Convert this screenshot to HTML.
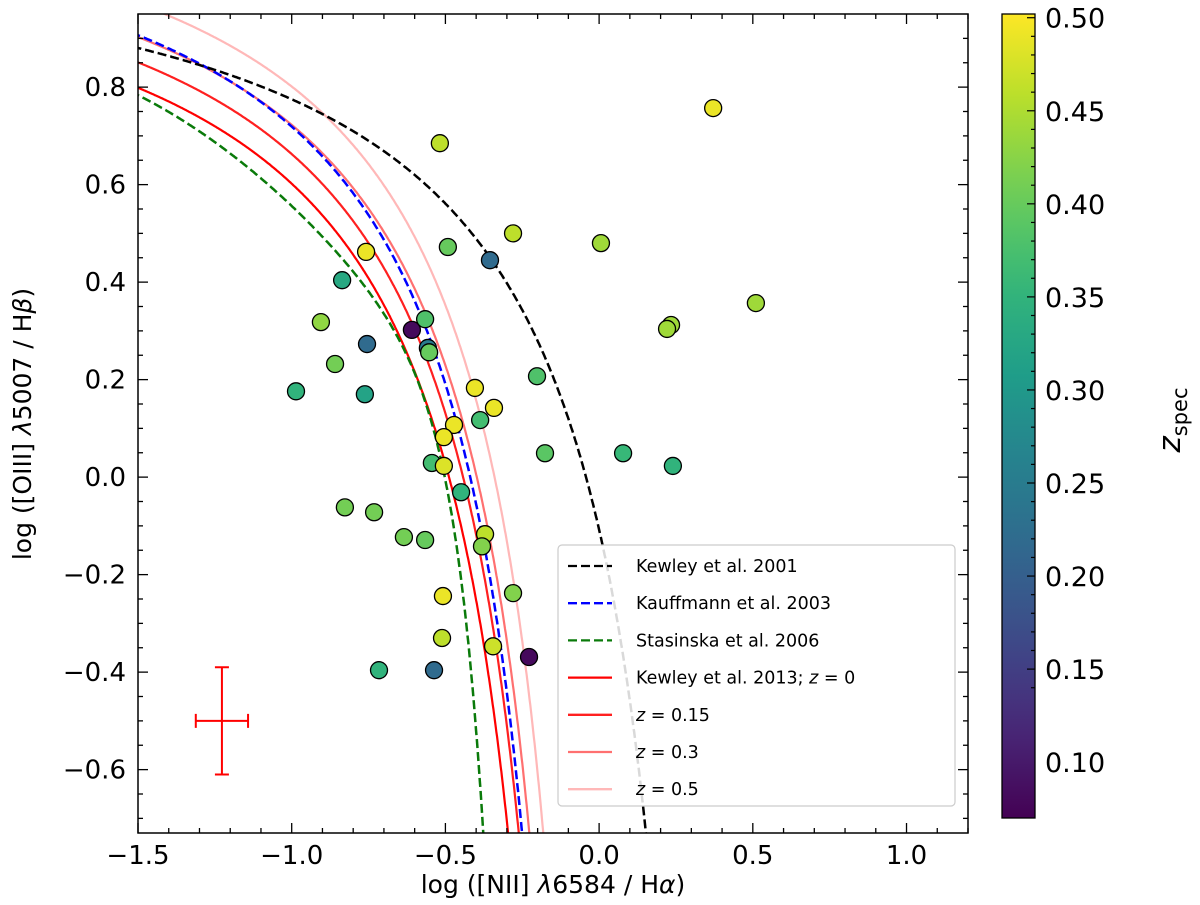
<!DOCTYPE html>
<html><head><meta charset="utf-8"><style>
html,body{margin:0;padding:0;background:#fff;}
svg{display:block;font-family:"DejaVu Sans","Liberation Sans",sans-serif;}
</style></head><body>
<svg id="chart" width="1200" height="905" viewBox="0 0 1200 905">
<defs><linearGradient id="vir" x1="0" y1="1" x2="0" y2="0"></linearGradient>
<clipPath id="clip"><rect x="138" y="14" width="830" height="819"/></clipPath></defs>
<g id="curves" clip-path="url(#clip)"></g>
<g id="pts" clip-path="url(#clip)"></g>
<g id="axes"></g>
<g id="legend"></g>
<g id="cbar"></g>
</svg>
<script>
const xs=[0.371,-0.518,-0.28,0.006,-0.492,-0.355,-0.758,-0.836,0.51,0.234,0.221,-0.905,-0.609,-0.566,-0.755,-0.557,-0.553,-0.859,-0.404,-0.202,-0.986,-0.762,-0.342,-0.387,-0.472,-0.505,-0.176,0.078,0.24,-0.544,-0.505,-0.449,-0.827,-0.732,-0.635,-0.566,-0.371,-0.381,-0.28,-0.508,-0.511,-0.345,-0.228,-0.716,-0.537];
const ys=[0.757,0.685,0.50,0.48,0.472,0.445,0.462,0.404,0.357,0.312,0.304,0.318,0.302,0.324,0.273,0.265,0.256,0.232,0.183,0.207,0.176,0.17,0.142,0.117,0.107,0.082,0.049,0.049,0.023,0.029,0.023,-0.031,-0.062,-0.072,-0.123,-0.129,-0.117,-0.142,-0.238,-0.244,-0.33,-0.347,-0.369,-0.396,-0.396];
const zs=[0.49,0.46,0.46,0.44,0.40,0.22,0.49,0.33,0.44,0.44,0.44,0.43,0.08,0.38,0.22,0.25,0.40,0.41,0.49,0.38,0.35,0.32,0.49,0.37,0.49,0.49,0.39,0.36,0.35,0.37,0.48,0.35,0.41,0.41,0.41,0.40,0.46,0.42,0.42,0.49,0.46,0.47,0.08,0.35,0.22];
const xTicks=[-1.5,-1.0,-0.5,0.0,0.5,1.0];
const xTickLabels=["\u22121.5","\u22121.0","\u22120.5","0.0","0.5","1.0"];
const yTicks=[-0.6,-0.4,-0.2,0.0,0.2,0.4,0.6,0.8];
const yTickLabels=["\u22120.6","\u22120.4","\u22120.2","0.0","0.2","0.4","0.6","0.8"];
const cTicks=[0.10,0.15,0.20,0.25,0.30,0.35,0.40,0.45,0.50];
const cTickLabels=["0.10","0.15","0.20","0.25","0.30","0.35","0.40","0.45","0.50"];
const kewleyZ=[0,0.15,0.3,0.5];
const errX=[-1.227], errY=[-0.5], errXw=[0.085], errYw=[0.11];

const X0=138,X1=968,Y0=14,Y1=833,XMIN=-1.5,XMAX=1.2,YMIN=-0.73,YMAX=0.95,ZMIN=0.07,ZMAX=0.502;
const sx=v=>X0+(v-XMIN)/(XMAX-XMIN)*(X1-X0);
const sy=v=>Y1-(v-YMIN)/(YMAX-YMIN)*(Y1-Y0);
const CB0=14,CB1=818;
const sz=v=>CB1-(v-ZMIN)/(ZMAX-ZMIN)*(CB1-CB0);
const NS="http://www.w3.org/2000/svg";
function mk(tag,attrs,parent){const e=document.createElementNS(NS,tag);for(const k in attrs)e.setAttribute(k,attrs[k]);parent.appendChild(e);return e;}
const V=[[68,1,84],[72,40,120],[62,74,137],[49,104,142],[38,130,142],[31,158,137],[53,183,121],[109,205,89],[180,222,44],[253,231,37]];
function viridis(t){t=Math.max(0,Math.min(1,t));const f=t*(V.length-1),i=Math.min(V.length-2,Math.floor(f)),r=f-i;const c=V[i].map((a,k)=>Math.round(a+(V[i+1][k]-a)*r));return `rgb(${c[0]},${c[1]},${c[2]})`;}

const cg=document.getElementById('curves');
function curve(fn,xmax,style,name){let d="";for(let x=-1.6;x<xmax;x+=0.002){const y=fn(x);if(y<YMIN-0.2)break;d+=(d?"L":"M")+sx(x).toFixed(1)+","+sy(y).toFixed(1);}
const p=mk('path',Object.assign({d:d,fill:"none"},style),cg);

}
const kcol=["#ff0000","#ff2020","#ff7070","#ffb8b8"];
kewleyZ.slice().reverse().forEach((z,j)=>{const i=kewleyZ.length-1-j;curve(x=>0.61/(x-0.02-0.1833*z)+1.2+0.3*z,0.02+0.1833*z,{stroke:kcol[i],"stroke-width":2.2},'kewley2013-z'+z);});
curve(x=>(-30.787+1.1358*x+0.27297*x*x)*Math.tanh(5.7409*x)-31.093,0.0,{stroke:"#0a7a0a","stroke-width":2.5,"stroke-dasharray":"9,4"},'stasinska2006-curve');
curve(x=>0.61/(x-0.05)+1.3,0.05,{stroke:"#0000ff","stroke-width":2.5,"stroke-dasharray":"9,4"},'kauffmann2003-curve');
curve(x=>0.61/(x-0.47)+1.19,0.47,{stroke:"#000","stroke-width":2.5,"stroke-dasharray":"9,4"},'kewley2001-curve');

const pg=document.getElementById('pts');
xs.forEach((x,i)=>{const c=mk('circle',{cx:sx(x),cy:sy(ys[i]),r:8.5,fill:viridis((zs[i]-ZMIN)/(ZMAX-ZMIN)),stroke:"#000","stroke-width":1.3},pg);

});

errX.forEach((x,i)=>{const g=mk('g',{stroke:"#ff0000","stroke-width":2},pg);


const cx=sx(x),cy=sy(errY[i]),x1=sx(x-errXw[i]),x2=sx(x+errXw[i]),y1=sy(errY[i]+errYw[i]),y2=sy(errY[i]-errYw[i]);
mk('line',{x1:x1,x2:x2,y1:cy,y2:cy},g);mk('line',{x1:cx,x2:cx,y1:y1,y2:y2},g);
mk('line',{x1:x1,x2:x1,y1:cy-7,y2:cy+7},g);mk('line',{x1:x2,x2:x2,y1:cy-7,y2:cy+7},g);
mk('line',{x1:cx-7,x2:cx+7,y1:y1,y2:y1},g);mk('line',{x1:cx-7,x2:cx+7,y1:y2,y2:y2},g);});

const ag=document.getElementById('axes');
mk('rect',{x:X0,y:Y0,width:X1-X0,height:Y1-Y0,fill:"none",stroke:"#000","stroke-width":1.5},ag);
for(let v=-1.5;v<=1.2001;v+=0.1){const px=sx(v);const major=Math.abs(v*2-Math.round(v*2))<1e-6;const L=major?10:5;
mk('line',{x1:px,x2:px,y1:Y1,y2:Y1-L,stroke:"#000","stroke-width":1.3},ag);mk('line',{x1:px,x2:px,y1:Y0,y2:Y0+L,stroke:"#000","stroke-width":1.3},ag);}
for(let k=-14;k<=19;k++){const v=k*0.05;if(v<YMIN||v>YMAX)continue;const py=sy(v);const major=k%4===0;const L=major?10:5;
mk('line',{x1:X0,x2:X0+L,y1:py,y2:py,stroke:"#000","stroke-width":1.3},ag);mk('line',{x1:X1,x2:X1-L,y1:py,y2:py,stroke:"#000","stroke-width":1.3},ag);}
xTicks.forEach((v,i)=>{const t=mk('text',{x:sx(v),y:Y1+31,"font-size":26,"text-anchor":"middle"},ag);t.textContent=xTickLabels[i];

});
yTicks.forEach((v,i)=>{const t=mk('text',{x:X0-12,y:sy(v)+9,"font-size":26,"text-anchor":"end"},ag);t.textContent=yTickLabels[i];

});
const xl=mk('text',{x:553,y:893,"font-size":25,"text-anchor":"middle"},ag);
xl.innerHTML='log ([NII] <tspan font-style="italic">λ</tspan>6584 / H<tspan font-style="italic">α</tspan>)';


const yl=mk('text',{x:0,y:0,"font-size":25,"text-anchor":"middle",transform:"translate(31,424) rotate(-90)"},ag);
yl.innerHTML='log ([OIII] <tspan font-style="italic">λ</tspan>5007 / H<tspan font-style="italic">β</tspan>)';



const lg=document.getElementById('legend');
mk('rect',{x:558,y:545,width:397,height:261,rx:4,fill:"#fff","fill-opacity":0.85,stroke:"#ccc","stroke-width":1.2},lg);
const lent=[["Kewley et al. 2001","#000",true],["Kauffmann et al. 2003","#0000ff",true],["Stasinska et al. 2006","#0a7a0a",true],["Kewley et al. 2013; <tspan font-style='italic'>z</tspan> = 0",kcol[0],false],["<tspan font-style='italic'>z</tspan> = 0.15",kcol[1],false],["<tspan font-style='italic'>z</tspan> = 0.3",kcol[2],false],["<tspan font-style='italic'>z</tspan> = 0.5",kcol[3],false]];
lent.forEach((e,i)=>{const y=566+i*37.2;const g=mk('g',{},lg);


const ln={x1:568,x2:612,y1:y,y2:y,stroke:e[1],"stroke-width":2.3};if(e[2])ln["stroke-dasharray"]="9,4";mk('line',ln,g);
const t=mk('text',{x:636,y:y+6,"font-size":17.5},g);t.innerHTML=e[0];});

const cbg=document.getElementById('cbar');
const grad=document.getElementById('vir');
for(let i=0;i<=20;i++){mk('stop',{offset:(i/20),"stop-color":viridis(i/20)},grad);}
const cbr=mk('rect',{x:1002,y:CB0,width:33,height:CB1-CB0,fill:"url(#vir)",stroke:"#000","stroke-width":1.3},cbg);


for(let k=14;k<=50;k++){const v=k*0.01;if(v<ZMIN)continue;const py=sz(v);const major=k%5===0;mk('line',{x1:1035,x2:1035-(major?8:4),y1:py,y2:py,stroke:"#000","stroke-width":1.2},cbg);}
cTicks.forEach((v,i)=>{const t=mk('text',{x:1045,y:sz(v)+10,"font-size":27},cbg);t.textContent=cTickLabels[i];

});
const cl=mk('text',{x:0,y:0,"font-size":31,"text-anchor":"middle",transform:"translate(1180,420) rotate(-90)"},cbg);
cl.innerHTML='<tspan font-style="italic">z</tspan><tspan font-size="21" dy="7">spec</tspan>';


</script>
</body></html>
